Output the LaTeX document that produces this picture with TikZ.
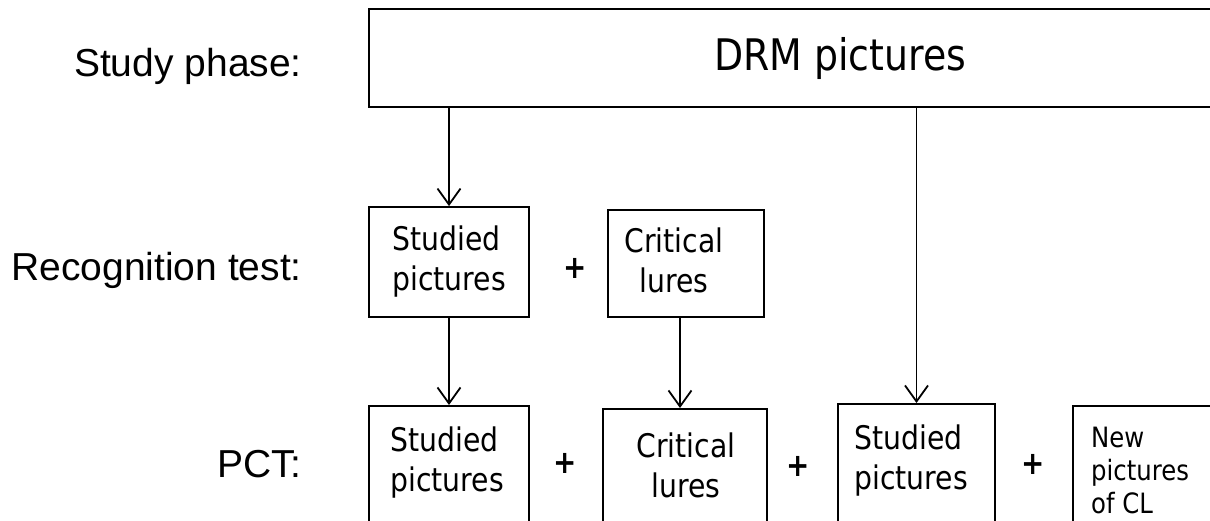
\documentclass[tikz,border=0pt]{standalone}
\usepackage{fontspec}
\setmainfont{Liberation Sans}
\newfontfamily\boxfont[FakeStretch=0.87]{DejaVu Sans}
\usetikzlibrary{arrows.meta}

\begin{document}
\begin{tikzpicture}[
  x=1pt, y=-1pt,
  phase/.style={inner sep=0pt,anchor=base east,font=\fontsize{39}{47}\selectfont},
  box/.style={draw,line width=1.8pt,rectangle,inner sep=0pt},
  btext/.style={inner sep=0pt,font=\boxfont\fontsize{32.5}{40}\selectfont},
  plus/.style={inner sep=0pt,font=\boxfont\bfseries\fontsize{32}{40}\selectfont},
  arr/.style={-{Straight Barb[length=16pt,width=23pt,line width=1.8pt]},line width=1.8pt}
]
  \useasboundingbox (0,0) rectangle (1210,520);
  \clip (0,0) rectangle (1210,520);

  % phases
  \node[phase] (lstudy) at (302,76) {Study phase:};
  \node[phase] (lrec) at (302,280) {Recognition test:};
  \node[phase] (lpct) at (302,477) {PCT:};

  % study phase
  \node[box,minimum width=942pt,minimum height=98pt,
        font=\boxfont\fontsize{43.5}{50}\selectfont] (drm) at (840,58) {DRM pictures};

  % recognition test
  \node[box,btext,align=left,minimum width=160pt,minimum height=110pt] (rstud) at (449,262) {Studied\\pictures};
  \node[plus] (rplus) at (575,268) {+};
  \node[box,minimum width=156pt,minimum height=107pt] (rcrit) at (686,263.5) {};
  \node[btext,align=center] (rcritt) at (674,260) {Critical\\lures};

  % pct frames
  \node[box,anchor=north,minimum width=160pt,minimum height=150pt] (pstud) at (449,405) {};
  \node[box,anchor=north,minimum width=164pt,minimum height=150pt] (pcrit) at (685,408) {};
  \node[box,anchor=north,minimum width=157pt,minimum height=150pt] (pstudb) at (916.5,403) {};
  \node[box,anchor=north west,minimum width=170pt,minimum height=150pt] (pnew) at (1072,405) {};

  % pct texts
  \node[btext,align=left] (pstudt) at (447,463) {Studied\\pictures};
  \node[plus] (pplusa) at (565,463) {+};
  \node[btext,align=center] (pcritt) at (686,465) {Critical\\lures};
  \node[plus] (pplusb) at (798,466) {+};
  \node[btext,align=left] (pstudbt) at (911,461) {Studied\\pictures};
  \node[plus] (pplusc) at (1033,464) {+};
  \node[btext,align=left,anchor=west,font=\boxfont\fontsize{28}{33}\selectfont] (pnewt) at (1091,470) {New\\pictures\\of CL};

  % arrows
  \draw[arr] (drm.south -| rstud.north) -- (rstud.north);
  \draw[arr] (drm.south -| pstudb.north) -- (pstudb.north);
  \draw[arr] (rstud.south) -- (pstud.north);
  \draw[arr] ([xshift=-6pt]rcrit.south) -- ([xshift=-6pt]rcrit.south |- pcrit.north);

\end{tikzpicture}
\end{document}
